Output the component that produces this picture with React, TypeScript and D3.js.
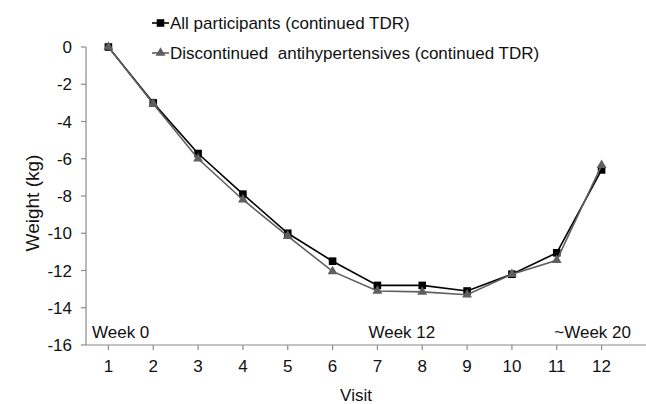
import React from "react";
import * as d3 from "d3";

const visits = [1, 2, 3, 4, 5, 6, 7, 8, 9, 10, 11, 12];
const allParticipants = [0, -3.0, -5.72, -7.9, -10.0, -11.5, -12.8, -12.8, -13.1, -12.2, -11.05, -6.6];
const discontinued = [0, -3.05, -6.0, -8.2, -10.15, -12.05, -13.1, -13.15, -13.3, -12.2, -11.45, -6.35];
const yTicks = [0, -2, -4, -6, -8, -10, -12, -14, -16];
const seriesNames = ["All participants (continued TDR)", "Discontinued  antihypertensives (continued TDR)"];
const weekLabels = [
  { visit: 1, text: "Week 0", anchor: "start" },
  { visit: 7.5, text: "Week 12", anchor: "middle" },
  { visit: 12, text: "~Week 20", anchor: "end" },
];

const W = 646, H = 404;
const left = 86, right = 624, top = 47, bottom = 345;
const font = "Liberation Sans, Arial, sans-serif";
const axisColor = "#8a8a8a";
const fs = 17;

export default function App() {
  const x = d3.scalePoint<number>().domain(visits).range([left, right]).padding(0.5);
  const y = d3.scaleLinear().domain([-16, 0]).range([bottom, top]);
  const line = d3.line<number>().x((_, i) => x(visits[i])!).y((d) => y(d));
  const tri = d3.symbol().type(d3.symbolTriangle).size(42)()!;

  return (
    <svg width={W} height={H} style={{ position: "absolute", left: 0, top: 0 }} fontFamily={font}>
      <rect width={W} height={H} fill="#fff" />
      {/* y axis */}
      <line x1={left} x2={left} y1={top} y2={bottom} stroke={axisColor} strokeWidth={1.2} />
      {yTicks.map((t) => (
        <g key={t}>
          <line x1={left - 5} x2={left} y1={y(t)} y2={y(t)} stroke={axisColor} strokeWidth={1.2} />
          <text x={left - 14} y={y(t)} dy="0.36em" textAnchor="end" fontSize={fs} fill="#111">{t}</text>
        </g>
      ))}
      {/* x axis */}
      <line x1={left} x2={W} y1={bottom} y2={bottom} stroke={axisColor} strokeWidth={1.2} />
      {visits.map((v) => (
        <g key={v}>
          <line x1={x(v)} x2={x(v)} y1={bottom} y2={bottom + 5} stroke={axisColor} strokeWidth={1.2} />
          <text x={x(v)} y={bottom + 27} textAnchor="middle" fontSize={fs} fill="#111">{v}</text>
        </g>
      ))}
      <text x={356} y={401} textAnchor="middle" fontSize={fs} fill="#111">Visit</text>
      <text transform={`translate(39,${(top + bottom) / 2 + 7}) rotate(-90)`} textAnchor="middle" fontSize={19} fill="#111">Weight (kg)</text>
      {weekLabels.map((w) => {
        const xv = w.visit === 7.5 ? (x(7)! + x(8)!) / 2 + 2 : w.visit === 1 ? left + 6 : 631;
        return (
          <text key={w.text} x={xv} y={bottom - 7} textAnchor={w.anchor as any} fontSize={fs} fill="#111">{w.text}</text>
        );
      })}
      {/* series */}
      <path d={line(allParticipants)!} fill="none" stroke="#000" strokeWidth={1.6} />
      {allParticipants.map((d, i) => (
        <rect key={i} x={x(visits[i])! - 3.8} y={y(d) - 3.8} width={7.6} height={7.6} fill="#000" />
      ))}
      <path d={line(discontinued)!} fill="none" stroke="#5f5f5f" strokeWidth={1.6} />
      {discontinued.map((d, i) => (
        <path key={i} d={tri} transform={`translate(${x(visits[i])},${y(d)})`} fill="#5f5f5f" />
      ))}
      {/* legend */}
      <g>
        <line x1={152} x2={169} y1={23} y2={23} stroke="#000" strokeWidth={1.6} />
        <rect x={156.7} y={19.2} width={7.6} height={7.6} fill="#000" />
        <text x={170} y={23} dy="0.36em" fontSize={fs} fill="#111">{seriesNames[0]}</text>
        <line x1={152} x2={169} y1={53} y2={53} stroke="#5f5f5f" strokeWidth={1.6} />
        <path d={tri} transform="translate(160.5,53)" fill="#5f5f5f" />
        <text x={170} y={53} dy="0.36em" fontSize={fs} fill="#111" style={{ whiteSpace: "pre" }}>{seriesNames[1]}</text>
      </g>
    </svg>
  );
}
